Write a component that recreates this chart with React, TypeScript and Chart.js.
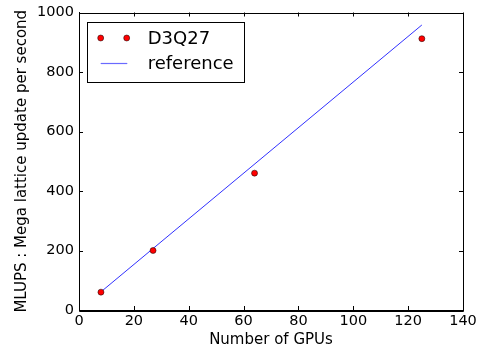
import React, { useEffect, useRef } from "react";
import { Chart, registerables } from "chart.js";

Chart.register(...registerables);

const gpus = [8, 27, 64, 125];
const mlups = [60, 200, 460, 912];
const refGpus = [8, 125];
const refMlups = [61, 958];
const xTicks = [0, 20, 40, 60, 80, 100, 120, 140];
const yTicks = [0, 200, 400, 600, 800, 1000];
const seriesLabels = ["D3Q27", "reference"];

const FONT = "'DejaVu Sans', sans-serif";

const framePlugin = {
  id: "frame",
  afterDraw(chart: any) {
    const { ctx, chartArea: a, scales } = chart;
    const xs = scales.x;
    const ys = scales.y;
    ctx.save();
    ctx.strokeStyle = "#000";
    ctx.lineWidth = 1;
    ctx.beginPath();
    ctx.rect(Math.round(a.left) + 0.5, Math.round(a.top) + 0.5, Math.round(a.right - a.left), Math.round(a.bottom - a.top));
    ctx.stroke();
    ctx.beginPath();
    const L = 4;
    for (const v of xTicks) {
      const px = Math.round(xs.getPixelForValue(v)) + 0.5;
      ctx.moveTo(px, a.bottom);
      ctx.lineTo(px, a.bottom - L);
      ctx.moveTo(px, a.top);
      ctx.lineTo(px, a.top + L);
    }
    for (const v of yTicks) {
      const py = Math.round(ys.getPixelForValue(v)) + 0.5;
      ctx.moveTo(a.left, py);
      ctx.lineTo(a.left + L, py);
      ctx.moveTo(a.right, py);
      ctx.lineTo(a.right - L, py);
    }
    ctx.stroke();

    // legend
    const bx = 87.5, by = 22.5, bw = 157, bh = 60;
    ctx.fillStyle = "#fff";
    ctx.fillRect(bx, by, bw, bh);
    ctx.strokeStyle = "#000";
    ctx.strokeRect(bx, by, bw, bh);
    ctx.font = `18px ${FONT}`;
    ctx.textBaseline = "middle";
    ctx.textAlign = "left";
    const row1 = 38, row2 = 63;
    for (const dx of [100.7, 126.7]) {
      ctx.beginPath();
      ctx.arc(dx, row1, 3, 0, Math.PI * 2);
      ctx.fillStyle = "#ff0000";
      ctx.fill();
      ctx.lineWidth = 0.5;
      ctx.strokeStyle = "#000";
      ctx.stroke();
    }
    ctx.beginPath();
    ctx.strokeStyle = "#6a6aff";
    ctx.lineWidth = 1.2;
    ctx.moveTo(100.7, row2 + 0.5);
    ctx.lineTo(127.3, row2 + 0.5);
    ctx.stroke();
    ctx.fillStyle = "#000";
    ctx.fillText(seriesLabels[0], 147.7, row1 + 1);
    ctx.fillText(seriesLabels[1], 147.7, row2 + 1);
    ctx.restore();
  },
};

export default function App() {
  const ref = useRef<HTMLCanvasElement>(null);
  useEffect(() => {
    document.body.style.margin = "0";
    const chart = new Chart(ref.current!, {
      type: "scatter",
      data: {
        datasets: [
          {
            label: seriesLabels[0],
            data: gpus.map((g, i) => ({ x: g, y: mlups[i] })),
            backgroundColor: "#ff0000",
            borderColor: "#000",
            borderWidth: 0.5,
            pointRadius: 3,
            showLine: false,
          },
          {
            label: seriesLabels[1],
            data: refGpus.map((g, i) => ({ x: g, y: refMlups[i] })),
            borderColor: "#3030ff",
            borderWidth: 1,
            pointRadius: 0,
            showLine: true,
          },
        ],
      },
      options: {
        responsive: false,
        animation: false,
        layout: { autoPadding: false, padding: { left: 0, right: 19, top: 12.5, bottom: 0 } },
        plugins: { legend: { display: false }, tooltip: { enabled: false } },
        scales: {
          x: {
            type: "linear",
            min: 0,
            max: 140,
            afterBuildTicks: (s: any) => {
              s.ticks = xTicks.map((v) => ({ value: v }));
            },
            afterFit: (s: any) => {
              s.height = 42;
              s.paddingLeft = 0;
              s.paddingRight = 0;
            },
            grid: { display: false, drawTicks: false },
            border: { display: true, color: "#000" },
            ticks: { color: "#000", font: { family: FONT, size: 14.5 }, padding: 3, maxRotation: 0, callback: (v: any) => String(v) },
            title: { display: true, text: "Number of GPUs", color: "#000", font: { family: FONT, size: 15 }, padding: { top: 0, bottom: 3 } },
          },
          y: {
            type: "linear",
            min: 0,
            max: 1000,
            afterBuildTicks: (s: any) => {
              s.ticks = yTicks.map((v) => ({ value: v }));
            },
            afterFit: (s: any) => {
              s.width = 79;
              s.paddingTop = 0;
              s.paddingBottom = 0;
            },
            grid: { display: false, drawTicks: false },
            border: { display: true, color: "#000" },
            ticks: { color: "#000", font: { family: FONT, size: 14.5 }, padding: 5, callback: (v: any) => String(v) },
            title: { display: true, text: "MLUPS : Mega lattice update per second", color: "#000", font: { family: FONT, size: 15 }, padding: { top: 12.7, bottom: 0 } },
          },
        },
      },
      plugins: [framePlugin],
    } as any);
    return () => chart.destroy();
  }, []);
  return <canvas ref={ref} width={482} height={352} style={{ display: "block" }} />;
}
